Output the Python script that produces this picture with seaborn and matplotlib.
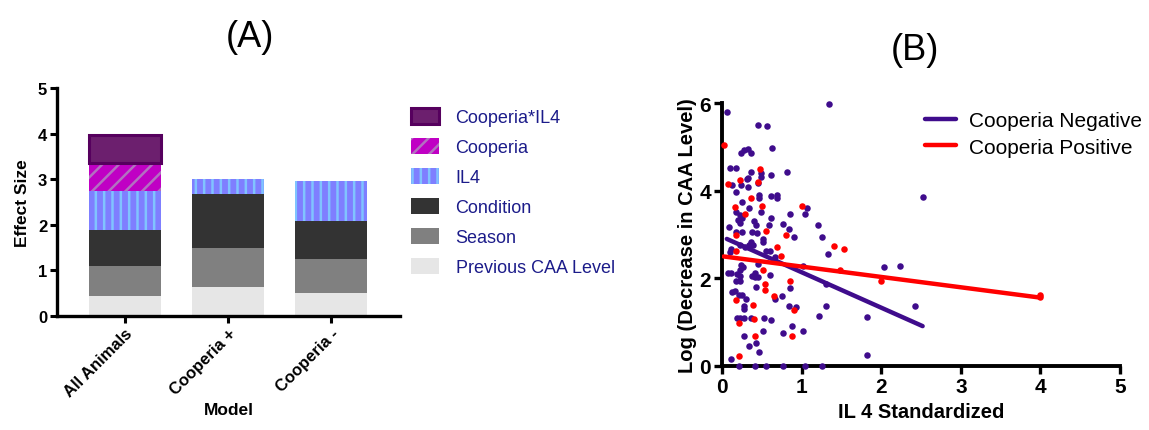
import matplotlib
matplotlib.use("Agg")
import matplotlib.pyplot as plt
import seaborn as sns
import pandas as pd
from matplotlib.patches import Patch
from matplotlib.lines import Line2D

# ---- panel A: stacked effect sizes ----
models = ["All Animals", "Cooperia +", "Cooperia -"]
components = ["Previous CAA Level", "Season", "Condition", "IL4", "Cooperia", "Cooperia*IL4"]
prev_caa = [0.43, 0.64, 0.50]
season = [0.66, 0.86, 0.74]
condition = [0.79, 1.18, 0.85]
il4 = [0.86, 0.33, 0.87]
cooperia = [0.61, 0.0, 0.0]
cooperia_il4 = [0.61, 0.0, 0.0]

# ---- panel B: scatter ----
neg_x = [0.06, 1.35, 0.45, 0.57, 0.63, 0.24, 0.28, 0.33, 0.36, 0.10, 0.18, 0.36, 0.81, 0.49, 0.49,
         0.13, 0.24, 0.31, 0.33, 0.45, 0.62, 0.32, 0.18, 0.46, 0.46, 0.61, 0.69, 0.69, 2.52,
         0.25, 1.07, 0.34, 1.04, 0.86, 0.18, 0.22, 0.25, 0.49, 0.62, 0.20, 0.40, 0.43,
         0.09, 0.59, 0.76, 1.21, 0.84, 0.22, 0.18, 0.25, 0.38, 0.44, 1.25, 0.91,
         0.52, 0.52, 0.36, 0.34, 0.39, 0.23, 1.33, 0.55, 0.60, 0.29, 0.11, 0.10, 0.67,
         0.45, 1.02, 2.03, 2.23, 0.24, 0.26, 0.22, 0.60, 0.38, 0.42, 0.45, 0.41, 0.08, 0.11, 0.19, 0.22,
         0.17, 0.22, 1.31, 0.85, 0.43, 0.13, 0.16, 0.21, 0.25, 0.30, 0.67, 0.75,
         0.84, 0.93, 1.31, 2.43, 0.27, 0.27, 0.19, 0.22, 0.28, 0.36, 0.53, 0.61, 1.22, 1.82,
         0.88, 0.51, 1.02, 0.77, 0.27, 0.43, 0.34, 0.46, 0.11, 1.82,
         0.21, 0.42, 0.55, 0.77, 1.04, 1.26]
neg_y = [5.79, 5.97, 5.51, 5.48, 4.97, 4.86, 4.92, 4.95, 4.85, 4.51, 4.51, 4.43, 4.43, 4.40, 4.31,
         4.12, 4.13, 4.27, 4.29, 4.17, 4.37, 4.08, 3.98, 3.90, 3.83, 3.89, 3.90, 3.83, 3.85,
         3.74, 3.61, 3.61, 3.47, 3.47, 3.51, 3.45, 3.37, 3.51, 3.37, 3.34, 3.30, 3.22,
         3.17, 3.22, 3.23, 3.22, 3.13, 3.27, 3.05, 3.05, 3.05, 3.04, 2.94, 2.94,
         2.90, 2.82, 2.82, 2.77, 2.77, 2.77, 2.56, 2.63, 2.63, 2.71, 2.67, 2.60, 2.48,
         2.33, 2.29, 2.26, 2.29, 2.30, 2.25, 2.18, 2.07, 2.05, 2.03, 2.02, 2.12, 2.12, 2.12, 2.10, 2.05,
         1.94, 1.94, 1.86, 1.78, 1.80, 1.69, 1.72, 1.61, 1.61, 1.53, 1.53, 1.59,
         1.37, 1.34, 1.37, 1.37, 1.38, 1.31, 1.09, 1.09, 1.09, 1.09, 1.09, 1.04, 1.14, 1.12,
         0.91, 0.81, 0.81, 0.76, 0.68, 0.52, 0.45, 0.32, 0.15, 0.24,
         0, 0, 0, 0, 0, 0]
pos_x = [0.03, 0.08, 0.22, 0.48, 0.45, 0.36, 0.16, 0.50, 0.29, 1.01, 0.55, 0.80, 0.18, 0.17,
         0.69, 0.74, 0.52, 0.54, 0.54, 0.86, 0.18, 0.65, 0.21, 0.90, 0.39, 0.40, 0.88, 0.41,
         0.21, 1.41, 1.53, 2.00, 1.48, 4.00, 4.00]
pos_y = [5.04, 4.16, 4.24, 4.50, 4.19, 3.83, 3.62, 3.64, 3.47, 3.64, 3.09, 2.99, 2.98, 2.63,
         2.71, 2.52, 2.19, 1.88, 1.74, 1.95, 1.50, 1.59, 0.98, 1.28, 1.40, 1.08, 0.68, 0.68,
         0.22, 2.73, 2.67, 1.94, 2.18, 1.58, 1.62]
neg_fit_x = [0.06, 2.52]
neg_fit_y = [2.90, 0.91]
pos_fit_x = [0.02, 4.00]
pos_fit_y = [2.50, 1.56]

sns.set_style("ticks")
plt.rcParams['font.family'] = ['Liberation Sans', 'DejaVu Sans']
plt.rcParams['hatch.linewidth'] = 1.8
for k in ["text.color", "axes.labelcolor", "xtick.color", "ytick.color"]:
    plt.rcParams[k] = "black"

fig = plt.figure(figsize=(11.49, 4.31), dpi=100)
ax_a = fig.add_axes([0.0496, 0.2645, 0.2985, 0.529])
ax_b = fig.add_axes([0.6284, 0.1485, 0.3464, 0.610])

df = pd.DataFrame({"Previous CAA Level": prev_caa, "Season": season, "Condition": condition,
                   "IL4": il4, "Cooperia": cooperia, "Cooperia*IL4": cooperia_il4}, index=models)
bottoms = df[components].cumsum(axis=1) - df[components]
styles = {
    "Cooperia*IL4": dict(color="#6c1f6e", edgecolor="#56005e", linewidth=2.2, hatch=None),
    "Cooperia": dict(color="#c000c4", edgecolor="#b272c0", linewidth=0, hatch="//"),
    "IL4": dict(color="#7f7fff", edgecolor="#80c4ff", linewidth=0, hatch="||"),
    "Condition": dict(color="#333333", edgecolor="#333333", linewidth=0, hatch=None),
    "Season": dict(color="#808080", edgecolor="#808080", linewidth=0, hatch=None),
    "Previous CAA Level": dict(color="#e6e6e6", edgecolor="#e6e6e6", linewidth=0, hatch=None),
}
pos = list(range(len(models)))
for comp in components:
    st = styles[comp]
    keep = df[comp] > 0
    xs = [p for p, k in zip(pos, keep) if k]
    ax_a.bar(xs, df[comp][keep], bottom=bottoms[comp][keep], width=0.7,
             color=st["color"], edgecolor=st["edgecolor"], linewidth=st["linewidth"],
             hatch=st["hatch"], zorder=2)

ax_a.set_ylim(0, 5)
ax_a.set_xlim(-0.66, 2.67)
ax_a.set_yticks(range(6))
ax_a.set_ylabel("Effect Size", fontsize=12.5, fontweight="bold", labelpad=6)
ax_a.set_xlabel("Model", fontsize=12.5, fontweight="bold", labelpad=2)
ax_a.set_xticks(pos)
ax_a.set_xticklabels(models, rotation=45, ha="right", rotation_mode="anchor",
                     fontsize=12, fontweight="bold")
for lab in ax_a.get_yticklabels():
    lab.set_fontweight("bold")
    lab.set_fontsize(12)
ax_a.tick_params(width=2.2, length=5, color="black", pad=2)
sns.despine(ax=ax_a)
for s in ["left", "bottom"]:
    ax_a.spines[s].set_linewidth(2.4)
    ax_a.spines[s].set_color("black")

handles = [Patch(facecolor=styles[c]["color"], edgecolor=styles[c]["edgecolor"],
                 linewidth=styles[c]["linewidth"], hatch=styles[c]["hatch"])
           for c in components[::-1]]
leg = ax_a.legend(handles, components[::-1], loc="upper left", bbox_to_anchor=(1.012, 0.942),
                  frameon=False, fontsize=13, handlelength=1.55, handleheight=0.95,
                  labelspacing=0.66, handletextpad=0.9, borderaxespad=0)
for t in leg.get_texts():
    t.set_color("#1c1c8a")

# scatter panel
purple = "#3f0c8c"
red = "#ff0000"
sns.scatterplot(x=neg_x, y=neg_y, ax=ax_b, color=purple, s=22, linewidth=0, clip_on=False,
                zorder=3)
sns.scatterplot(x=pos_x, y=pos_y, ax=ax_b, color=red, s=22, linewidth=0, clip_on=False,
                zorder=3)
sns.lineplot(x=neg_fit_x, y=neg_fit_y, ax=ax_b, color=purple, linewidth=3.2, zorder=4)
sns.lineplot(x=pos_fit_x, y=pos_fit_y, ax=ax_b, color=red, linewidth=3.2, zorder=4)
ax_b.set_xlim(0, 5)
ax_b.set_ylim(0, 6)
ax_b.set_xticks(range(6))
ax_b.set_yticks([0, 2, 4, 6])
ax_b.set_xlabel("IL 4 Standardized", fontsize=14.5, fontweight="bold", labelpad=4)
ax_b.set_ylabel("Log (Decrease in CAA Level)", fontsize=14.5, fontweight="bold", labelpad=2)
for lab in ax_b.get_xticklabels() + ax_b.get_yticklabels():
    lab.set_fontweight("bold")
    lab.set_fontsize(15)
ax_b.tick_params(width=2.4, length=6, color="black", pad=2)
sns.despine(ax=ax_b)
for s in ["left", "bottom"]:
    ax_b.spines[s].set_linewidth(2.8)
    ax_b.spines[s].set_color("black")
leg_b = ax_b.legend([Line2D([], [], color=purple, lw=3.2), Line2D([], [], color=red, lw=3.2)],
                    ["Cooperia Negative", "Cooperia Positive"], loc="upper left",
                    bbox_to_anchor=(0.49, 1.0), frameon=False, fontsize=15,
                    handlelength=1.45, handletextpad=0.65, labelspacing=0.35, borderaxespad=0)

fig.text(0.2175, 0.912, "(A)", fontsize=26, ha="center", va="center")
fig.text(0.796, 0.883, "(B)", fontsize=26, ha="center", va="center")

fig.savefig("out.png", dpi=100)
plt.close(fig)
